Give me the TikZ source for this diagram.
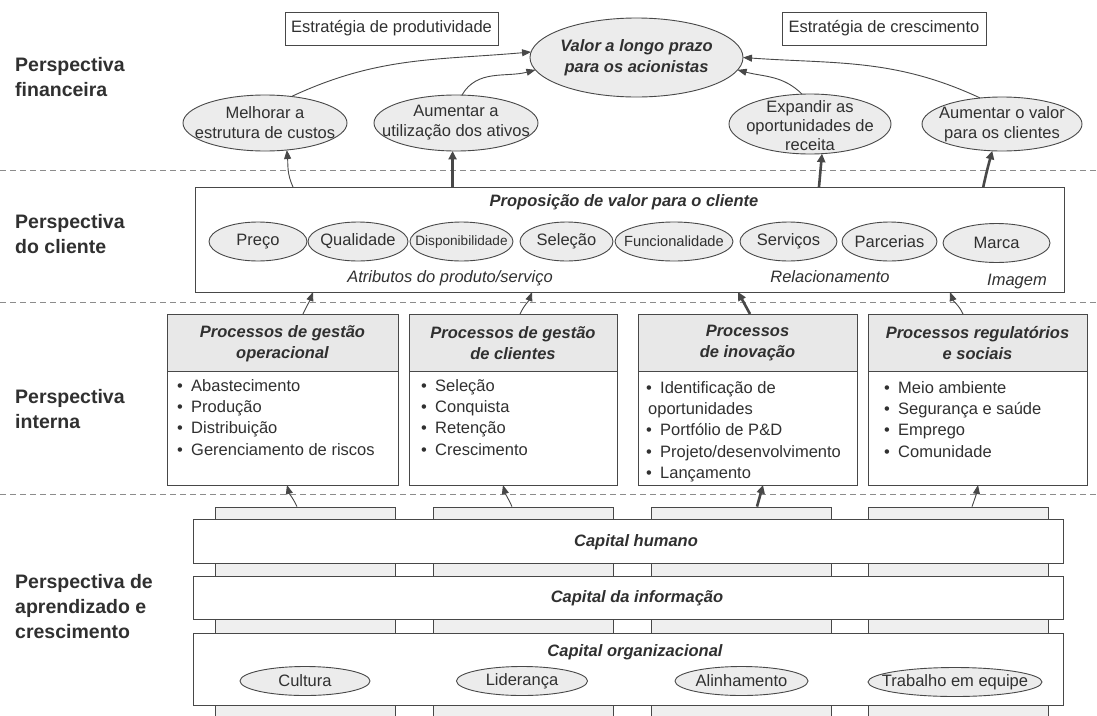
\documentclass[tikz,border=0pt]{standalone}
\usepackage{fontspec}
\setmainfont{Liberation Sans}
\usetikzlibrary{shapes.geometric, arrows.meta}

\definecolor{ink}{HTML}{303030}
\definecolor{edge}{HTML}{484848}
\definecolor{ovalfill}{HTML}{ECECEC}
\definecolor{headfill}{HTML}{E8E8E8}
\definecolor{pillarfill}{HTML}{EFEFEF}
\definecolor{dashgray}{HTML}{8C8C8C}

\newcommand\itembul{\makebox[14pt][l]{•}}

\tikzset{
  oval/.style={ellipse, draw=edge, fill=ovalfill, line width=0.9pt, inner sep=0pt, outer sep=0pt},
  boxed/.style={rectangle, draw=edge, fill=white, line width=0.9pt, inner sep=0pt, outer sep=0pt},
  txt/.style={font=\fontsize{16.5}{20}\selectfont, text=ink, align=center, inner sep=0pt},
  itxt/.style={txt, font=\fontsize{16.5}{20}\selectfont\itshape},
  bi/.style={txt, font=\fontsize{16.5}{21}\selectfont\bfseries\itshape},
  list/.style={txt, align=left, anchor=north west, font=\fontsize{16.5}{21.3}\selectfont},
  persp/.style={font=\fontsize{19.5}{25}\selectfont\bfseries, text=ink, align=left, anchor=north west, inner sep=0pt},
  procbox/.style={boxed, minimum height=171pt,
    path picture={
      \fill[headfill] (path picture bounding box.north west) rectangle ([yshift=-57pt]path picture bounding box.north east);
      \draw[edge, line width=0.9pt] ([yshift=-57pt]path picture bounding box.north west) -- ([yshift=-57pt]path picture bounding box.north east);
    }},
  pillar/.style={rectangle, draw=edge, fill=pillarfill, line width=0.8pt, inner sep=0pt, minimum width=180pt, minimum height=209pt},
  band/.style={boxed, minimum width=870pt},
  thinarrow/.style={draw=edge, line width=0.9pt, -{Triangle[length=9pt,width=7pt]}},
  thickarrow/.style={draw=edge, line width=2.6pt, -{Triangle[length=8.5pt,width=8pt]}},
  divider/.style={draw=dashgray, line width=0.8pt, dash pattern=on 6pt off 4pt},
}

\begin{document}
\begin{tikzpicture}[x=1pt, y=1pt]
  \useasboundingbox (0,0) rectangle (1097,-715);
  \clip (0,0) rectangle (1097,-715);
  \fill[white] (0,0) rectangle (1097,-715);

  % perspective dividers
  \coordinate (d1l) at (0,-170);   \coordinate (d1r) at (1097,-170);
  \coordinate (d2l) at (0,-302);   \coordinate (d2r) at (1097,-302);
  \coordinate (d3l) at (0,-494);   \coordinate (d3r) at (1097,-494);
  \draw[divider] (d1l) -- (d1r);
  \draw[divider] (d2l) -- (d2r);
  \draw[divider] (d3l) -- (d3r);

  % perspective titles
  \node[persp] (lblFin) at (15,-57)  {Perspectiva\\financeira};
  \node[persp] (lblCli) at (15,-214) {Perspectiva\\do cliente};
  \node[persp] (lblInt) at (15,-389) {Perspectiva\\interna};
  \node[persp] (lblApr) at (15,-574) {Perspectiva de\\aprendizado e\\crescimento};

  % ---------- financial perspective ----------
  \node[boxed, minimum width=213pt, minimum height=33pt,
        label={[txt]center:Estratégia de produtividade}] (stratP) at (391.5,-28.5) {};
  \node[boxed, minimum width=204pt, minimum height=33pt,
        label={[txt]center:Estratégia de crescimento}] (stratC) at (884,-28.5) {};
  \node[oval, minimum width=213pt, minimum height=79pt,
        label={[bi]center:{Valor a longo prazo\\para os acionistas}}] (topE) at (636.5,-57.5) {};
  \node[oval, minimum width=164pt, minimum height=56pt,
        label={[txt]center:{Melhorar a\\estrutura de custos}}] (melhorar) at (265,-123) {};
  \node[oval, minimum width=164pt, minimum height=56pt,
        label={[txt]center:{Aumentar a\\utilização dos ativos}}] (aumA) at (456,-123) {};
  \node[oval, minimum width=162pt, minimum height=60pt,
        label={[txt, font=\fontsize{16.5}{19}\selectfont, yshift=-2pt]center:{Expandir as\\oportunidades de\\receita}}] (expandir) at (810,-124) {};
  \node[oval, minimum width=160pt, minimum height=54pt,
        label={[txt]center:{Aumentar o valor\\para os clientes}}] (aumV) at (1002,-124) {};

  \draw[thinarrow] (melhorar.45) to[out=25, in=185] (topE.177);
  \draw[thinarrow] (aumA.78) to[out=60, in=195] (topE.187);
  \draw[thinarrow] (expandir.105) to[out=135, in=-15] (topE.-7);
  \draw[thinarrow] (aumV.130) to[out=155, in=-4] (topE.0);

  % ---------- customer perspective ----------
  \node[boxed, minimum width=869pt, minimum height=105pt] (cust) at (629.5,-239.5) {};
  \node[bi] (custTitle) at (624,-202) {Proposição de valor para o cliente};
  \node[oval, minimum width=98pt, minimum height=39pt, label={[txt]center:Preço}] (preco) at (258,-241.5) {};
  \node[oval, minimum width=100pt, minimum height=39pt, label={[txt]center:Qualidade}] (qualidade) at (358,-241.5) {};
  \node[oval, minimum width=103pt, minimum height=39pt,
        label={[txt, font=\fontsize{13.6}{16}\selectfont]center:Disponibilidade}] (disp) at (461.5,-241.5) {};
  \node[oval, minimum width=93pt, minimum height=39pt, label={[txt]center:Seleção}] (selecao) at (566.5,-241.5) {};
  \node[oval, minimum width=118pt, minimum height=39pt,
        label={[txt, font=\fontsize{14.7}{17}\selectfont]center:Funcionalidade}] (func) at (674,-241.5) {};
  \node[oval, minimum width=97pt, minimum height=39pt, label={[txt]center:Serviços}] (servicos) at (788.5,-241.5) {};
  \node[oval, minimum width=95pt, minimum height=39pt, label={[txt]center:Parcerias}] (parcerias) at (889.5,-241.5) {};
  \node[oval, minimum width=107pt, minimum height=39pt, label={[txt]center:Marca}] (marca) at (996.5,-243) {};
  \node[itxt] (attr) at (450,-278) {Atributos do produto/serviço};
  \node[itxt] (relac) at (830,-277) {Relacionamento};
  \node[itxt] (imagem) at (1017,-282) {Imagem};

  \draw[thinarrow] ([xshift=-336.5pt]cust.north) to[out=115, in=-85] (melhorar.-51);
  \draw[thickarrow] (cust.north -| aumA.-97) -- (aumA.-97);
  \draw[thickarrow] ([xshift=-3pt]cust.north -| expandir.-68) -- (expandir.-68);
  \draw[thickarrow] ([xshift=-9pt]cust.north -| aumV.-110) to[out=78, in=-105] (aumV.-110);

  % ---------- internal perspective ----------
  \node[procbox, minimum width=231pt] (p1) at (282.5,-399.5) {};
  \node[procbox, minimum width=208pt] (p2) at (513,-399.5) {};
  \node[procbox, minimum width=219pt] (p3) at (747.5,-399.5) {};
  \node[procbox, minimum width=219pt] (p4) at (977.5,-399.5) {};

  \node[bi] (p1head) at ([yshift=-29.5pt]p1.north) {Processos de gestão\\operacional};
  \node[bi] (p2head) at ([yshift=-29.5pt]p2.north) {Processos de gestão\\de clientes};
  \node[bi] (p3head) at ([yshift=-29.5pt]p3.north) {Processos\\de inovação};
  \node[bi] (p4head) at ([yshift=-29.5pt]p4.north) {Processos regulatórios\\e sociais};

  \node[list] (p1list) at (177,-379) {\itembul Abastecimento\\\itembul Produção\\\itembul Distribuição\\\itembul Gerenciamento de riscos};
  \node[list] (p2list) at (421,-379) {\itembul Seleção\\\itembul Conquista\\\itembul Retenção\\\itembul Crescimento};
  \node[list] (p3list) at (646,-381) {\itembul Identificação de\\\hspace*{2pt}oportunidades\\\itembul Portfólio de P\&D\\\itembul Projeto/desenvolvimento\\\itembul Lançamento};
  \node[list] (p4list) at (884,-381) {\itembul Meio ambiente\\\itembul Segurança e saúde\\\itembul Emprego\\\itembul Comunidade};

  \draw[thinarrow] ([xshift=20.5pt]p1.north) to[out=65, in=-110] ([xshift=30.5pt]p1.north |- cust.south);
  \draw[thinarrow] ([xshift=7pt]p2.north) to[out=65, in=-110] ([xshift=19pt]p2.north |- cust.south);
  \draw[thickarrow] ([xshift=2.5pt]p3.north) -- ([xshift=-9.5pt]p3.north |- cust.south);
  \draw[thinarrow] ([xshift=-14.5pt]p4.north) to[out=115, in=-70] ([xshift=-27.5pt]p4.north |- cust.south);

  % ---------- learning and growth perspective ----------
  \node[pillar] (pil1) at (305,-611.5) {};
  \node[pillar] (pil2) at (523,-611.5) {};
  \node[pillar] (pil3) at (741.5,-611.5) {};
  \node[pillar] (pil4) at (958.5,-611.5) {};

  \node[band, minimum height=44pt] (humano) at (628,-541) {};
  \node[band, minimum height=43pt] (informacao) at (628,-597.5) {};
  \node[band, minimum height=72pt] (organiz) at (628,-669) {};
  \node[bi] (humanoT) at (636,-542) {Capital humano};
  \node[bi] (informacaoT) at (637,-598) {Capital da informação};
  \node[bi] (organizT) at (635,-652) {Capital organizacional};

  \node[oval, minimum width=130pt, minimum height=29pt, label={[txt]center:Cultura}] (cultura) at (305,-681) {};
  \node[oval, minimum width=131pt, minimum height=29pt, label={[txt]center:Liderança}] (lideranca) at (522,-681) {};
  \node[oval, minimum width=133pt, minimum height=29pt, label={[txt]center:Alinhamento}] (alinhamento) at (741.5,-681) {};
  \node[oval, minimum width=174pt, minimum height=29pt, label={[txt]center:Trabalho em equipe}] (trabalho) at (955,-682) {};

  \draw[thinarrow] ([xshift=-8pt]pil1.north) to[out=115, in=-75] ([xshift=4.5pt]p1.south);
  \draw[thinarrow] ([xshift=-11pt]pil2.north) to[out=115, in=-75] ([xshift=-10pt]p2.south);
  \draw[thickarrow] ([xshift=15.5pt]pil3.north) -- ([xshift=15.5pt]p3.south);
  \draw[thinarrow] ([xshift=13.5pt]pil4.north) to[out=70, in=-100] ([xshift=0.5pt]p4.south);
\end{tikzpicture}
\end{document}
